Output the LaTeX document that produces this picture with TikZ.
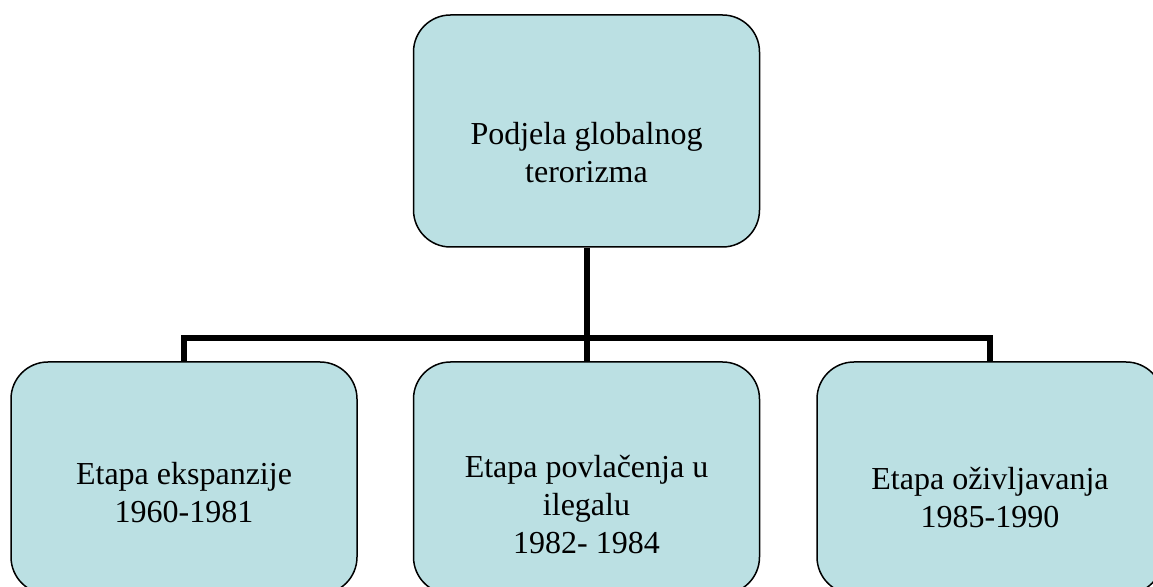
\documentclass[tikz,border=0pt]{standalone}
\usepackage{fontspec}
\setmainfont{Liberation Serif}
\usepackage{tikz}
\definecolor{boxfill}{RGB}{187,224,227}

\begin{document}
\begin{tikzpicture}[x=0.5pt, y=-0.5pt,
  etapa/.style={draw=black, line width=0.75pt, fill=boxfill, rounded corners=18.5pt, minimum width=173pt, minimum height=116pt, inner sep=0pt},
  natpis/.style={align=center, font=\fontsize{16pt}{19pt}\selectfont, inner sep=0pt},
  veza/.style={draw=black, line width=3pt}]

\clip (0,0) rectangle (1153,587);

\node[etapa] (podjela) at (586.5,131) {};
\node[etapa] (ekspanzija) at (184,478) {};
\node[etapa] (povlacenje) at (586.5,478) {};
\node[etapa] (ozivljavanje) at (990,478) {};

\node[natpis] (podjelaT) at (586.5,153) {Podjela globalnog\\terorizma};
\node[natpis] (ekspanzijaT) at (184,493) {Etapa ekspanzije\\1960-1981};
\node[natpis] (povlacenjeT) at (586.5,505) {Etapa povlačenja u\\ilegalu\\1982- 1984};
\node[natpis] (ozivljavanjeT) at (990,498) {Etapa oživljavanja\\1985-1990};

\coordinate (sabirnica) at (587,338);

\draw[veza] (podjela.south) -- (povlacenje.north);
\draw[veza] (ekspanzija.north) |- (sabirnica);
\draw[veza] (ozivljavanje.north) |- (sabirnica);

\end{tikzpicture}
\end{document}
